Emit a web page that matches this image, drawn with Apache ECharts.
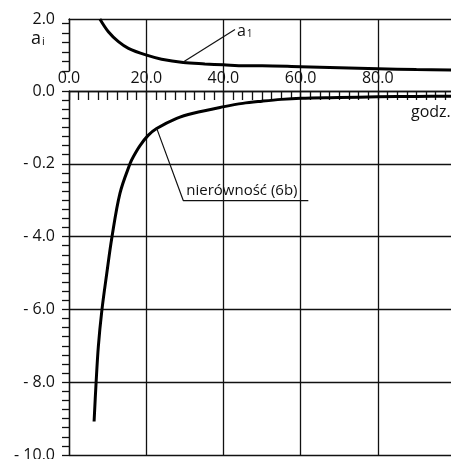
<!DOCTYPE html>
<html>
<head>
<meta charset="utf-8">
<script src="https://cdn.jsdelivr.net/npm/echarts@6/dist/echarts.min.js"></script>
<style>
  html, body { margin: 0; padding: 0; background: #fff; }
  #chart { width: 451px; height: 459px; }
</style>
</head>
<body>
<div id="chart"></div>
<script>
  // values (godz. -> a1 / nierownosc 6b)
  var a1Hours = [8.0, 10.2, 12.8, 15.4, 19.9, 24.0, 29.6, 35.2, 40.0, 45.6, 50, 60, 70, 80, 90, 100]
  var a1Values = [2.0, 1.73, 1.52, 1.38, 1.24, 1.15, 1.08, 1.05, 1.03, 1.01, 1.01, 0.99, 0.97, 0.95, 0.93, 0.92]
  var n6bHours = [6.5, 7.0, 7.6, 8.5, 9.8, 11.1, 13.2, 15.8, 16.7, 18.4, 20.5, 22.7, 27.9, 32.2, 40.2, 45.0, 50, 55, 60, 70, 80, 90, 100]
  var n6bValues = [-9.08, -8.05, -7.02, -6.04, -5.0, -4.03, -2.81, -2.0, -1.80, -1.50, -1.22, -1.03, -0.75, -0.61, -0.43, -0.34, -0.28, -0.23, -0.20, -0.18, -0.16, -0.15, -0.14]

  // ticks and labels
  var xTicks = [0, 20, 40, 60, 80]
  var xTickLabels = ['0.0', '20.0', '40.0', '60.0', '80.0']
  var yTicks = [-10, -8, -6, -4, -2, 0]
  var yTickLabels = ['- 10.0', '- 8.0', '- 6.0', '- 4.0', '- 0.2', '0.0']
  var aTicks = [0.9, 1.1, 1.3, 1.5, 1.7, 1.9]
  var aLabelValues = [2.0]
  var aLabels = ['2.0']

  // leader lines of the annotations (data units)
  var a1Leader = [[29.6, 1.09], [43.0, 1.78]]
  var n6bLeader = [[22.7, -1.02], [29.6, -3.01], [62.0, -3.01]]

  var ink = '#111'
  var font = 'Open Sans'

  function zip (xs, ys) {
    return xs.map(function (x, i) { return [x, ys[i]] })
  }
  function pick (values, labels) {
    return function (v) {
      for (var i = 0; i < values.length; i++) {
        if (Math.abs(values[i] - v) < 1e-6) return labels[i]
      }
      return ''
    }
  }

  var chart = echarts.init(document.getElementById('chart'), null, {renderer: 'canvas'})

  var gridBase = {left: 69, right: -4, outerBoundsMode: 'none', containLabel: false}
  var lineStyle = {color: ink, width: 1.3}

  var option = {
    backgroundColor: '#fff',
    animation: false,
    textStyle: {fontFamily: font},
    grid: [
      Object.assign({top: 19, height: 52}, gridBase),
      Object.assign({top: 91, height: 364}, gridBase),
      Object.assign({top: 71, height: 20}, gridBase)
    ],
    xAxis: [
      {
        gridIndex: 0, type: 'value', position: 'top', min: 0, max: 100, interval: 20,
        axisLine: {show: true, onZero: false, lineStyle: lineStyle},
        axisTick: {show: false}, axisLabel: {show: false},
        splitLine: {show: true, lineStyle: lineStyle}
      },
      {
        gridIndex: 1, type: 'value', position: 'top', min: 0, max: 100, interval: 20,
        axisLine: {show: true, onZero: false, lineStyle: lineStyle},
        axisTick: {show: true, inside: true, length: 9, lineStyle: lineStyle},
        minorTick: {show: true, splitNumber: 8, length: 9, lineStyle: lineStyle},
        axisLabel: {
          show: true, margin: 5, color: ink, fontSize: 16, fontFamily: font,
          showMaxLabel: false, formatter: pick(xTicks, xTickLabels)
        },
        splitLine: {show: true, lineStyle: lineStyle}
      },
      {
        gridIndex: 2, type: 'value', min: 0, max: 100, interval: 20,
        axisLine: {show: false}, axisTick: {show: false}, axisLabel: {show: false},
        splitLine: {show: true, showMinLine: false, lineStyle: lineStyle}
      }
    ],
    yAxis: [
      {
        gridIndex: 0, type: 'value', min: 0.9, max: 2.0,
        axisLine: {show: true, onZero: false, lineStyle: lineStyle},
        axisTick: {show: true, length: 7, customValues: aTicks, lineStyle: lineStyle},
        axisLabel: {
          show: true, margin: 14, color: ink, fontSize: 16, fontFamily: font,
          customValues: aLabelValues, formatter: pick(aLabelValues, aLabels)
        },
        splitLine: {show: false}
      },
      {
        gridIndex: 1, type: 'value', min: -10, max: 0, interval: 2,
        axisLine: {show: true, onZero: false, lineStyle: lineStyle},
        axisTick: {show: true, length: 7, lineStyle: lineStyle},
        minorTick: {show: true, splitNumber: 8, length: 7, lineStyle: lineStyle},
        axisLabel: {
          show: true, margin: 14, color: ink, fontSize: 16, fontFamily: font,
          formatter: pick(yTicks, yTickLabels)
        },
        splitLine: {show: true, lineStyle: lineStyle}
      },
      {
        gridIndex: 2, type: 'value', min: 0, max: 1, show: false
      }
    ],
    series: [
      {
        name: 'a1', type: 'line', xAxisIndex: 0, yAxisIndex: 0,
        data: zip(a1Hours, a1Values), smooth: 0.35,
        showSymbol: false, clip: true,
        lineStyle: {color: '#000', width: 3}
      },
      {
        name: 'a1 leader', type: 'line', xAxisIndex: 0, yAxisIndex: 0,
        data: a1Leader, showSymbol: false,
        lineStyle: {color: ink, width: 1.2}
      },
      {
        name: 'nierówność (6b)', type: 'line', xAxisIndex: 1, yAxisIndex: 1,
        data: zip(n6bHours, n6bValues), smooth: 0.35,
        showSymbol: false, clip: true,
        lineStyle: {color: '#000', width: 3}
      },
      {
        name: '6b leader', type: 'line', xAxisIndex: 1, yAxisIndex: 1,
        data: n6bLeader, showSymbol: false,
        lineStyle: {color: ink, width: 1.2}
      }
    ]
  }
  chart.setOption(option)

  // texts placed from data anchors
  var pA1 = chart.convertToPixel({gridIndex: 0}, a1Leader[1])
  var pAi = chart.convertToPixel({gridIndex: 0}, [0, 1.59])
  var p6b = chart.convertToPixel({gridIndex: 1}, n6bLeader[1])
  var pGodz = chart.convertToPixel({gridIndex: 1}, [98.9, -0.59])

  chart.setOption({
    graphic: [
      {
        type: 'text', x: pA1[0] + 2, y: pA1[1] + 2,
        style: {
          text: '{m|a}{s|1}', fill: ink, verticalAlign: 'middle',
          rich: {
            m: {fontSize: 16, fontFamily: font, color: ink},
            s: {fontSize: 10, fontFamily: font, color: ink, verticalAlign: 'bottom', padding: [6, 0, 0, 1]}
          }
        }
      },
      {
        type: 'text', x: pAi[0] - 38, y: pAi[1],
        style: {
          text: '{m|a}{s|i}', fill: ink, verticalAlign: 'middle',
          rich: {
            m: {fontSize: 18, fontFamily: font, color: ink},
            s: {fontSize: 11, fontFamily: font, color: ink, verticalAlign: 'bottom', padding: [7, 0, 0, 1]}
          }
        }
      },
      {
        type: 'text', x: p6b[0] + 3, y: p6b[1] - 2,
        style: {text: 'nierówność (6b)', fill: ink, font: '15px "' + font + '"', verticalAlign: 'bottom'}
      },
      {
        type: 'text', x: pGodz[0], y: pGodz[1],
        style: {text: 'godz.', fill: ink, font: '16px "' + font + '"', align: 'right', verticalAlign: 'middle'}
      }
    ]
  })
</script>
</body>
</html>
